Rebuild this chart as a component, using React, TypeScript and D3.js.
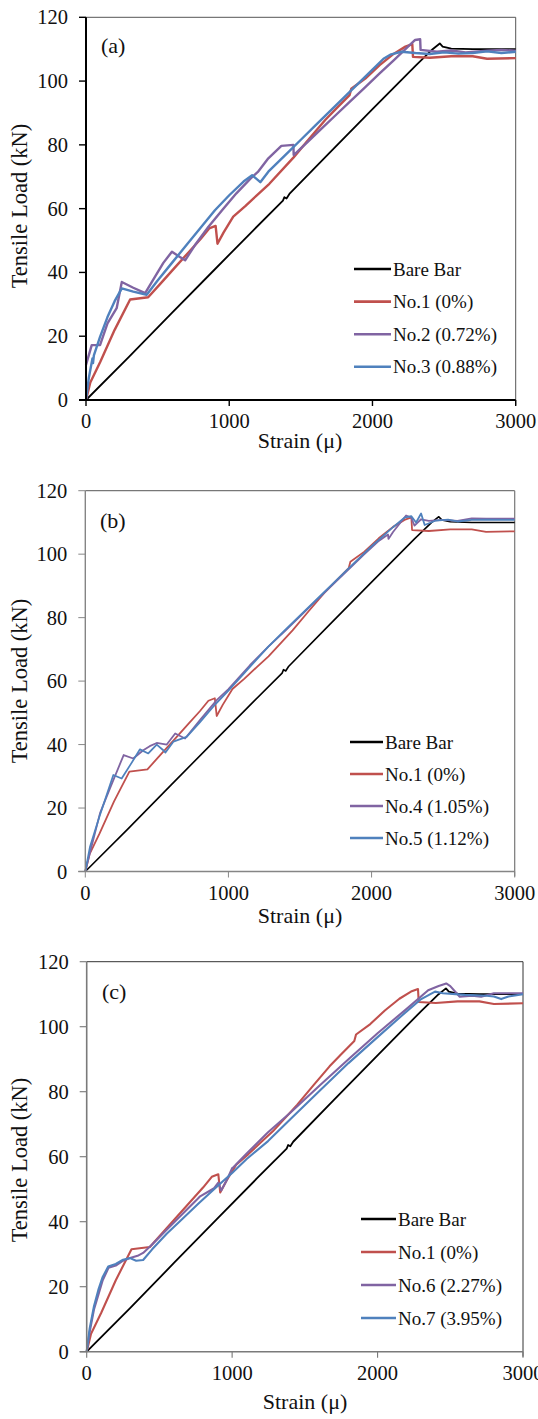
import React from 'react';
import * as d3 from 'd3';

type Pt = [number, number];

const xTicks = [0, 1000, 2000, 3000];
const yTicks = [0, 20, 40, 60, 80, 100, 120];
const xTitle = 'Strain (μ)';
const yTitle = 'Tensile Load (kN)';
const panelLabels = ['(a)', '(b)', '(c)'];
const legendA = ['Bare Bar', 'No.1 (0%)', 'No.2 (0.72%)', 'No.3 (0.88%)'];
const legendB = ['Bare Bar', 'No.1 (0%)', 'No.4 (1.05%)', 'No.5 (1.12%)'];
const legendC = ['Bare Bar', 'No.1 (0%)', 'No.6 (2.27%)', 'No.7 (3.95%)'];

const bareBar: Pt[] = [[0,0],[300,13.5],[600,27.3],[900,41],[1170,53.3],[1375,62.5],[1385,63.6],[1400,63.2],[1420,64.6],[1700,77.5],[2000,91.2],[2300,104.8],[2420,110],[2470,111.8],[2490,110.8],[2550,110.2],[2700,110],[3000,110]];
const no1: Pt[] = [[0,0],[30,5.5],[100,12],[200,22],[308,31.5],[434,32.2],[520,36.5],[620,41.5],[720,46.5],[800,50.5],[860,53.8],[905,54.6],[918,49],[960,52.5],[1028,57.5],[1112,60.8],[1200,64.5],[1280,67.8],[1448,76],[1560,82],[1670,87.8],[1750,91.5],[1840,95.6],[1852,97.6],[1950,100.8],[2050,105],[2150,108.6],[2230,110.8],[2278,111.6],[2283,107.6],[2400,107.3],[2550,107.8],[2700,107.8],[2800,107],[3000,107.2]];
const no2: Pt[] = [[0,11],[40,17.2],[98,17.2],[150,24],[214,28.8],[250,37],[330,35.2],[413,33.5],[480,38.5],[540,43],[600,46.5],[650,45],[692,43.8],[760,48.5],[855,54.3],[950,59.5],[1050,64.8],[1150,69.5],[1200,71.5],[1273,75.8],[1364,79.7],[1448,80],[1450,76.8],[1550,81],[1650,85.3],[1750,89.6],[1850,93.9],[1950,98.1],[2050,102.4],[2150,106.6],[2250,110.9],[2298,112.9],[2333,113.1],[2336,109.8],[2450,109.2],[2550,109.6],[2650,109],[2800,109.5],[2900,109.8],[3000,109.5]];
const no3: Pt[] = [[0,0],[20,7],[45,13],[49,11.6],[55,14],[98,19.8],[150,26],[200,31],[250,35],[330,34],[424,33],[500,37.5],[600,43],[700,48.5],[800,54],[900,59.5],[1000,64.2],[1100,68.5],[1160,70.5],[1217,68.3],[1273,71.6],[1400,77.2],[1500,81.6],[1600,86],[1700,90.4],[1800,94.8],[1900,99.2],[2000,103.6],[2077,107],[2130,108.4],[2203,109.2],[2300,108.8],[2400,108.5],[2500,109],[2600,108.6],[2700,108.8],[2800,109.3],[2900,108.8],[3000,109.2]];
const no4: Pt[] = [[0,0],[33,6],[103,18.4],[173,26.3],[268,36.7],[335,35.6],[405,38.2],[450,39.5],[499,40.5],[569,40],[628,43.5],[697,41.9],[801,47.7],[918,54],[1000,57.5],[1150,65],[1277,70.8],[1400,76],[1600,84.8],[1800,93.5],[1950,100],[2045,104],[2115,106.2],[2118,104.8],[2150,107],[2241,112.2],[2277,111.5],[2300,109],[2346,111],[2400,110.5],[2500,110.8],[2600,110.5],[2700,111.3],[2800,111.2],[3000,111.2]];
const no5: Pt[] = [[0,0],[33,7.8],[100,17.5],[196,30.4],[254,29.3],[320,34],[382,38.5],[440,37.2],[499,40],[545,38.2],[560,37.5],[615,40.9],[708,42.4],[800,47],[895,52],[1000,57],[1150,64.5],[1277,70.8],[1400,76.3],[1600,85],[1800,93.8],[2000,102.5],[2150,108.5],[2230,111.5],[2277,112],[2311,110],[2346,112.8],[2371,109.2],[2450,110.6],[2534,110.9],[2600,110.3],[2700,110.8],[2800,110.9],[3000,110.8]];
const no6: Pt[] = [[0,0],[20,6],[50,13],[80,17.5],[110,22],[150,25.8],[200,26.5],[250,28],[298,28.8],[350,29.5],[388,30.4],[450,33],[550,37.5],[650,42],[767,47.2],[780,47.8],[876,50.3],[905,52],[925,49.6],[960,52.5],[1000,56.5],[1010,56.8],[1100,61],[1247,67.5],[1400,73.5],[1600,81.8],[1800,90],[2000,98],[2200,105.5],[2348,111.2],[2420,112.5],[2472,113.3],[2500,112.5],[2565,109.2],[2650,109.5],[2712,109.2],[2800,110.3],[3000,110.3]];
const no7: Pt[] = [[0,0],[20,7],[50,14],[80,19],[110,23],[148,26.2],[200,27],[250,28.3],[298,28.8],[340,28],[388,28.2],[450,31.5],[550,36.3],[650,40.5],[767,45.5],[900,51],[1000,55],[1100,59.3],[1247,64.8],[1400,71.5],[1600,80.2],[1800,88.8],[2000,96.8],[2162,103.2],[2300,108.5],[2395,110.8],[2450,110.3],[2600,109.8],[2750,109.5],[2800,109.3],[2850,108.5],[2900,109.3],[3000,110]];

const seriesColors = ['#000000', '#c0504d', '#8064a2', '#4f81bd'];

const layouts = [
  { x0: 86, x1: 515.7, yTop: 17.3, yBottom: 400, axisColor: '#000', axisW: 2, frameColor: '#555', frameW: 1, lw: [1.8, 2.4, 2.4, 2.4],
    leg: { x1: 354, x2: 391, tx: 393, y0: 269, dy: 32.6 }, lab: { x: 101, y: 53 }, yt: { x: 27, y: 206 }, xt: { x: 300, y: 448 } },
  { x0: 85.3, x1: 514.7, yTop: 490.7, yBottom: 871.5, axisColor: '#858585', axisW: 1.4, frameColor: '#777', frameW: 1.2, lw: [1.6, 1.8, 1.8, 1.8],
    leg: { x1: 350, x2: 383, tx: 385, y0: 742, dy: 32 }, lab: { x: 100, y: 528 }, yt: { x: 27, y: 681 }, xt: { x: 300, y: 923 } },
  { x0: 86.7, x1: 523, yTop: 961.7, yBottom: 1351.7, axisColor: '#7a7a7a', axisW: 1.6, frameColor: '#333', frameW: 1, lw: [1.8, 2.1, 2.1, 2.1],
    leg: { x1: 361, x2: 396, tx: 398, y0: 1219, dy: 33 }, lab: { x: 102, y: 999 }, yt: { x: 27, y: 1160 }, xt: { x: 305, y: 1409 } },
];

const panelSeries: Pt[][][] = [
  [bareBar, no1, no2, no3],
  [bareBar, no1, no4, no5],
  [bareBar, no1, no6, no7],
];
const panelLegends = [legendA, legendB, legendC];

const SERIF = 'Liberation Serif';

function T(props: { x?: number; y?: number; size: number; anchor?: string; transform?: string; children: React.ReactNode }) {
  return (
    <text x={props.x} y={props.y} transform={props.transform} textAnchor={props.anchor || 'start'}
      fontFamily={SERIF} fontSize={props.size} fill="#111" style={{ fontFamily: SERIF, fontSize: props.size + 'px' }}>
      {props.children}
    </text>
  );
}

function Panel({ idx }: { idx: number }) {
  const L = layouts[idx];
  const x = d3.scaleLinear().domain([0, 3000]).range([L.x0, L.x1]);
  const y = d3.scaleLinear().domain([0, 120]).range([L.yBottom, L.yTop]);
  const line = d3.line<Pt>().x(d => x(d[0])).y(d => y(d[1]));
  const series = panelSeries[idx];
  const names = panelLegends[idx];
  return (
    <g>
      <line x1={L.x0} x2={L.x1} y1={L.yTop} y2={L.yTop} stroke={L.frameColor} strokeWidth={L.frameW} />
      <line x1={L.x1} x2={L.x1} y1={L.yTop} y2={L.yBottom + 5} stroke={L.frameColor} strokeWidth={L.frameW} />
      {series.map((s, i) => (
        <path key={i} d={line(s) || ''} fill="none" stroke={seriesColors[i]} strokeWidth={L.lw[i]} strokeLinejoin="round" />
      ))}
      <line x1={L.x0} x2={L.x0} y1={L.yTop} y2={L.yBottom} stroke={L.axisColor} strokeWidth={L.axisW} />
      <line x1={L.x0 - 7} x2={L.x1} y1={L.yBottom} y2={L.yBottom} stroke={L.axisColor} strokeWidth={L.axisW} />
      {yTicks.map(t => (
        <g key={'y' + t}>
          <line x1={L.x0 - 7} x2={L.x0} y1={y(t)} y2={y(t)} stroke={L.axisColor} strokeWidth={L.axisW * 0.7} />
          <T x={L.x0 - 18} y={y(t) + 7} anchor="end" size={20.5}>{t}</T>
        </g>
      ))}
      {xTicks.map(t => (
        <g key={'x' + t}>
          <line x1={x(t)} x2={x(t)} y1={L.yBottom} y2={L.yBottom + 6} stroke={L.axisColor} strokeWidth={L.axisW * 0.7} />
          <T x={x(t)} y={L.yBottom + 28} anchor="middle" size={20.5}>{t}</T>
        </g>
      ))}
      <T x={L.xt.x} y={L.xt.y} anchor="middle" size={22}>{xTitle}</T>
      <T transform={`translate(${L.yt.x},${L.yt.y}) rotate(-90)`} anchor="middle" size={22.5}>{yTitle}</T>
      <T x={L.lab.x} y={L.lab.y} size={22}>{panelLabels[idx]}</T>
      {names.map((n, i) => {
        const yy = L.leg.y0 + i * L.leg.dy;
        return (
          <g key={n}>
            <line x1={L.leg.x1} x2={L.leg.x2} y1={yy} y2={yy} stroke={seriesColors[i]} strokeWidth={2.6} />
            <T x={L.leg.tx} y={yy + 6.5} size={19}>{n}</T>
          </g>
        );
      })}
    </g>
  );
}

export default function App() {
  return (
    <div style={{ position: 'absolute', left: 0, top: 0, width: 538, height: 1419, fontFamily: SERIF }}>
      <svg width={538} height={1419} viewBox="0 0 538 1419" style={{ display: 'block', background: '#fff' }}>
        <rect x={0} y={0} width={538} height={1419} fill="#fff" />
        {[0, 1, 2].map(i => <Panel key={i} idx={i} />)}
      </svg>
    </div>
  );
}
